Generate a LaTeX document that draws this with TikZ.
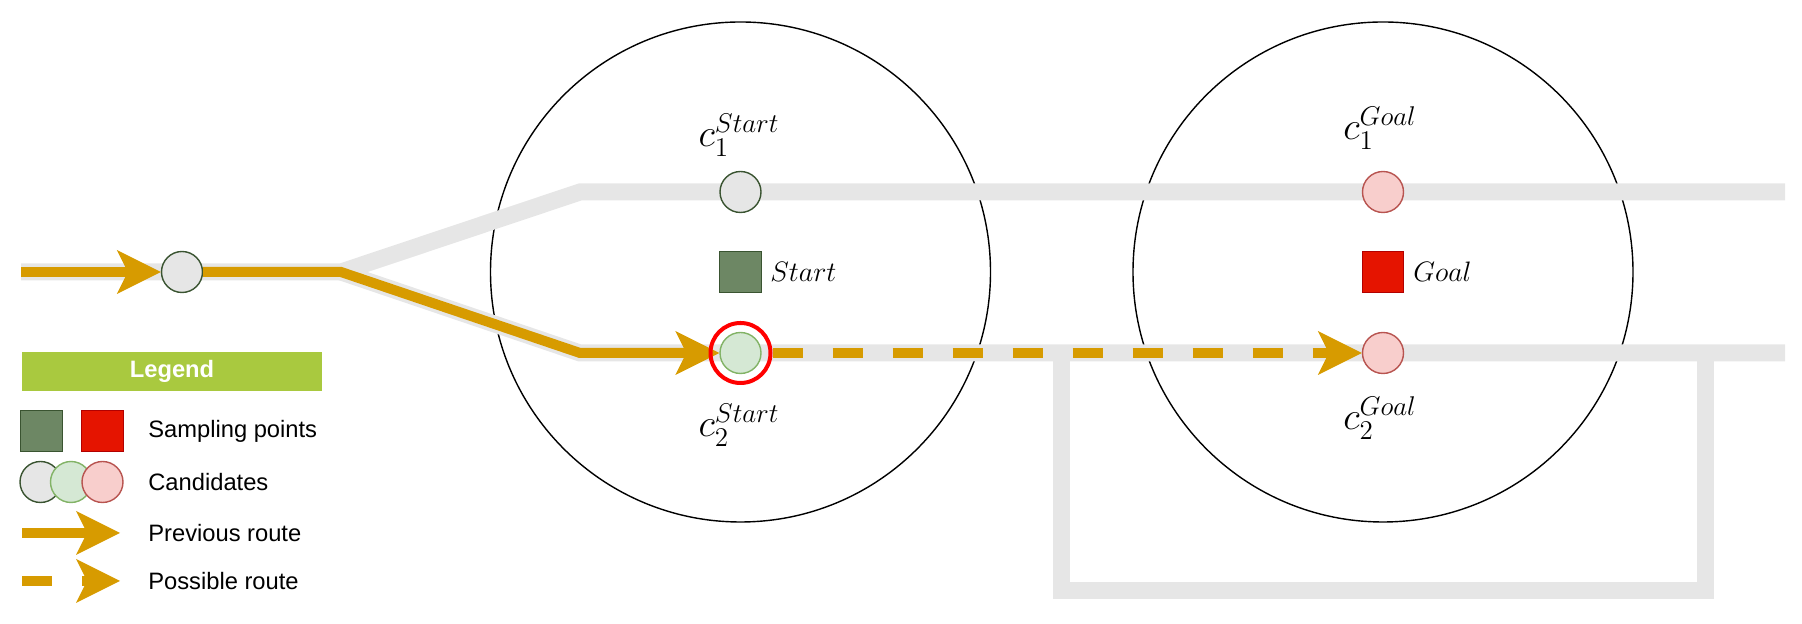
\RequirePackage{fix-cm}
\documentclass[tikz,border=0pt]{standalone}
\usepackage{fontspec}
\newfontfamily\legendfont{Liberation Sans}
\usetikzlibrary{arrows.meta}

\definecolor{routeorange}{HTML}{D79B00}
\definecolor{trackgray}{HTML}{E6E6E6}
\definecolor{startgreen}{HTML}{6D8764}
\definecolor{startborder}{HTML}{3A5431}
\definecolor{goalred}{HTML}{E51400}
\definecolor{goalborder}{HTML}{B20000}
\definecolor{candgreen}{HTML}{D5E8D4}
\definecolor{candgreenborder}{HTML}{82B366}
\definecolor{candpink}{HTML}{F8CECC}
\definecolor{candpinkborder}{HTML}{B85450}
\definecolor{legendgreen}{HTML}{A9C93F}

\begin{document}
\begin{tikzpicture}
    % Define styles
    \tikzstyle{track} = [draw=trackgray, line width=0.34cm]
    \tikzstyle{route} = [draw=routeorange, line width=0.2cm, -{Stealth[length=0.88cm, width=0.88cm, inset=0.22cm, line width=0pt]}]
    \tikzstyle{possible} = [route, dash pattern=on 0.6cm off 0.6cm]
    \tikzstyle{area} = [circle, draw, line width=0.8pt, minimum size=10cm, inner sep=0pt]
    \tikzstyle{candidate} = [circle, line width=0.8pt, minimum size=0.82cm, inner sep=0pt]
    \tikzstyle{candgray} = [candidate, fill=trackgray, draw=startborder]
    \tikzstyle{candlight} = [candidate, fill=candgreen, draw=candgreenborder]
    \tikzstyle{candred} = [candidate, fill=candpink, draw=candpinkborder]
    \tikzstyle{sampling} = [rectangle, line width=0.8pt, minimum size=0.83cm, inner sep=0pt]
    \tikzstyle{startpoint} = [sampling, fill=startgreen, draw=startborder]
    \tikzstyle{goalpoint} = [sampling, fill=goalred, draw=goalborder]
    \tikzstyle{clabel} = [inner sep=0pt, font=\fontsize{22}{26}\selectfont]
    \tikzstyle{pointlabel} = [anchor=west, inner sep=0pt, font=\fontsize{16}{19}\selectfont]
    \tikzstyle{legendtext} = [anchor=west, inner sep=0pt, font=\legendfont\fontsize{13.5}{16}\selectfont]

    \useasboundingbox (0,0) rectangle (36.04,12.48);

    % Search areas
    \node[area] (areaS) at (14.81,7.04) {};
    \node[area] (areaG) at (27.66,7.04) {};

    % Track points
    \coordinate (trackS) at (0.42,7.04);
    \coordinate (fork) at (6.82,7.04);
    \coordinate (bendT) at (11.6,8.64);
    \coordinate (bendB) at (11.6,5.42);
    \coordinate (endT) at (35.7,8.64);
    \coordinate (endB) at (35.7,5.42);
    \coordinate (loopA) at (21.22,5.42);
    \coordinate (loopB) at (21.22,0.66);
    \coordinate (loopC) at (34.1,0.66);
    \coordinate (loopD) at (34.1,5.42);

    % Tracks
    \draw[track] (trackS) -- (fork) -- (bendT) -- (endT);
    \draw[track] (fork) -- (bendB) -- (endB);
    \draw[track] (loopA) -- (loopB) -- (loopC) -- (loopD);

    % Candidates and sampling points
    \node[candgray] (c0) at (3.64,7.04) {};
    \node[candgray] (c1s) at (14.81,8.64) {};
    \node[candlight] (c2s) at (14.81,5.42) {};
    \node[candred] (c1g) at (27.66,8.64) {};
    \node[candred] (c2g) at (27.66,5.42) {};
    \node[startpoint] (start) at (14.81,7.04) {};
    \node[goalpoint] (goal) at (27.66,7.04) {};

    % Routes
    \draw[route] (trackS) -- (c0);
    \draw[route] (c0) -- (fork) -- (bendB) -- (c2s);
    \node[circle, draw=red, line width=0.08cm, minimum size=1.2cm, inner sep=0pt] (c2sring) at (c2s) {};
    \draw[possible] (c2sring.east) -- (c2g);

    % Labels
    \node[clabel] (c1slabel) at (14.78,9.78) {$c_1^{Start}$};
    \node[clabel] (c2slabel) at (14.78,3.98) {$c_2^{Start}$};
    \node[clabel] (c1glabel) at (27.6,9.92) {$c_1^{Goal}$};
    \node[clabel] (c2glabel) at (27.6,4.12) {$c_2^{Goal}$};
    \node[pointlabel] (startlabel) at (15.4,7.04) {$Start$};
    \node[pointlabel] (goallabel) at (28.26,7.04) {$Goal$};

    % Legend
    \node[fill=legendgreen, minimum width=6cm, minimum height=0.78cm, inner sep=0pt, text=white, font=\legendfont\bfseries\fontsize{13.5}{16}\selectfont] (legend) at (3.44,5.05) {Legend};
    \node[startpoint] (lgstart) at (0.83,3.86) {};
    \node[goalpoint] (lggoal) at (2.05,3.86) {};
    \node[legendtext] (lgsampling) at (2.96,3.86) {Sampling points};
    \node[candgray] (lgc1) at (0.81,2.84) {};
    \node[candlight] (lgc2) at (1.42,2.84) {};
    \node[candred] (lgc3) at (2.05,2.84) {};
    \node[legendtext] (lgcand) at (2.96,2.84) {Candidates};
    \coordinate (prevA) at (0.44,1.82);
    \coordinate (prevB) at (2.4,1.82);
    \draw[route] (prevA) -- (prevB);
    \node[legendtext] (lgprev) at (2.96,1.82) {Previous route};
    \coordinate (possA) at (0.44,0.86);
    \coordinate (possB) at (2.4,0.86);
    \draw[possible] (possA) -- (possB);
    \node[legendtext] (lgposs) at (2.96,0.86) {Possible route};
\end{tikzpicture}
\end{document}
